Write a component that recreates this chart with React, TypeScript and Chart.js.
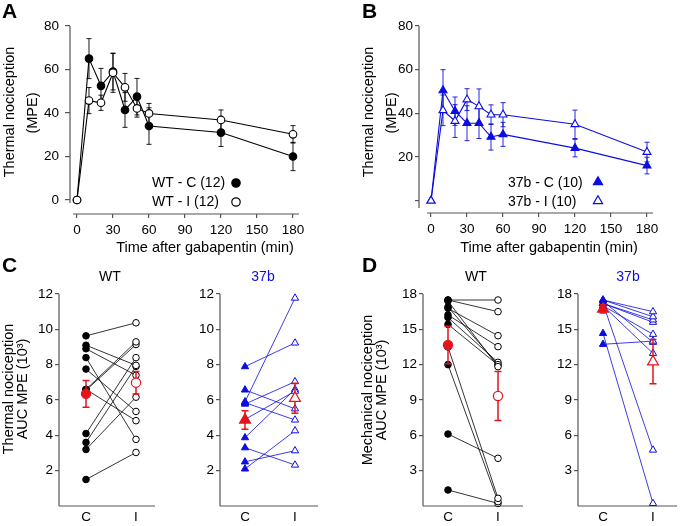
import React, { useEffect, useRef } from 'react';
import { Chart, registerables } from 'chart.js';

Chart.register(...registerables);

const FONT = '"Liberation Sans", Arial, Helvetica, sans-serif';
const BLUE = '#0d0de0';
const RED = '#e3141c';
const AXIS = '#555555';

// ---------- Panels A & B : time course ----------
const timeMin = [0, 10, 20, 30, 40, 50, 60, 120, 180];
const timeTicks = [0, 30, 60, 90, 120, 150, 180];
const mpeTicks = [0, 20, 40, 60, 80];

const wtCMean = [0, 65, 52.5, 59, 41.4, 47.5, 34, 31, 20];
const wtCSem = [0, 9.2, 8, 8.4, 8, 8.4, 8.4, 6.4, 6.5];
const wtIMean = [0, 45.7, 44.7, 58.5, 51.8, 42.1, 39.8, 36.8, 30.2];
const wtISem = [0, 6, 3.5, 9, 6.4, 4, 4.6, 4.6, 4];

const b37CMean = [0, 50.5, 41, 35.5, 35.5, 29.2, 30.4, 24.1, 16.1];
const b37CSem = [0, 9.5, 6.5, 8, 7, 6, 5.5, 4, 3.8];
const b37IMean = [0, 41.4, 36.5, 46.3, 43.2, 39.4, 39.4, 35, 22.3];
const b37ISem = [0, 7, 7.5, 5, 8, 4.5, 5.5, 6.5, 4.5];

const legendA = ['WT - C (12)', 'WT - I (12)'];
const legendB = ['37b - C (10)', '37b - I (10)'];

// ---------- Panels C & D : paired AUC ----------
const groupLabels = ['C', 'I'];
const thermAucTicks = [2, 4, 6, 8, 10, 12];
const mechAucTicks = [3, 6, 9, 12, 15, 18];

const wtThermC = [9.63, 9.1, 8.9, 8.4, 7.75, 6.6, 6.55, 6.6, 4.1, 3.6, 3.2, 1.5];
const wtThermI = [10.37, 7.96, 7.4, 3.77, 5.35, 9.29, 9.14, 4.83, 8.4, 7.9, 6.16, 3.03];
const wtThermMean = [6.35, 6.98];
const wtThermSem = [0.76, 0.64];

const b37ThermC = [5.9, 7.89, 6.57, 5.85, 5.77, 4.9, 3.87, 3.3, 2.5, 2.1];
const b37ThermI = [11.77, 9.23, 5.5, 4.87, 7.04, 6.5, 6.6, 2.32, 3.13, 4.26];
const b37ThermMean = [4.87, 6.1];
const b37ThermSem = [0.52, 0.85];

const wtMechC = [17.49, 17.49, 17.4, 16.78, 16.9, 16.22, 16.0, 15.42, 13.5, 12.0, 6.11, 1.36];
const wtMechI = [17.49, 16.5, 11.83, 14.46, 12.0, 13.53, 12.2, 11.97, 0.65, 0.37, 4.05, 0.22];
const wtMechMean = [13.67, 9.34];
const wtMechSem = [1.6, 2.07];

const b37MechC = [17.49, 17.49, 17.2, 17.2, 17.0, 17.0, 13.73, 17.2, 14.66, 17.4];
const b37MechI = [16.5, 16.07, 15.8, 15.6, 14.58, 12.96, 14.0, 4.75, 0.22, 13.9];
const b37MechMean = [16.73, 12.25];
const b37MechSem = [0.35, 1.88];

// ---------- helpers ----------
type Rect = { x: number; y: number; w: number; h: number };
type Area = { L: number; T: number; R: number; B: number };
type Txt = { t: string; x: number; y: number; size?: number; bold?: boolean; color?: string; rot?: boolean; align?: CanvasTextAlign };
type Mk = { x: number; y: number; shape: 'circle' | 'triangle'; r: number; fill: string; stroke: string };

function drawShape(ctx: CanvasRenderingContext2D, m: Mk, ox: number, oy: number) {
  const x = m.x - ox;
  const y = m.y - oy;
  ctx.beginPath();
  if (m.shape === 'circle') {
    ctx.arc(x, y, m.r, 0, Math.PI * 2);
  } else {
    const a = (2 * Math.PI) / 3;
    ctx.moveTo(x, y - m.r);
    ctx.lineTo(x + Math.sin(a) * m.r, y - Math.cos(a) * m.r);
    ctx.lineTo(x + Math.sin(2 * a) * m.r, y - Math.cos(2 * a) * m.r);
  }
  ctx.closePath();
  ctx.fillStyle = m.fill;
  ctx.fill();
  ctx.lineWidth = 1.2;
  ctx.strokeStyle = m.stroke;
  ctx.stroke();
}

function decorPlugin(rect: Rect, texts: Txt[], markers: Mk[], yGap: number, xGap: number) {
  return {
    id: 'decor',
    beforeDatasetsDraw(chart: any) {
      const { left, right, top, bottom } = chart.chartArea;
      const ctx = chart.ctx as CanvasRenderingContext2D;
      ctx.save();
      ctx.strokeStyle = AXIS;
      ctx.lineWidth = 1.2;
      ctx.beginPath();
      ctx.moveTo(left, top);
      ctx.lineTo(left, bottom - yGap);
      ctx.moveTo(left + xGap, bottom);
      ctx.lineTo(right, bottom);
      ctx.stroke();
      ctx.restore();
    },
    afterDraw(chart: any) {
      const ctx = chart.ctx as CanvasRenderingContext2D;
      texts.forEach((t) => {
        ctx.save();
        ctx.font = `${t.bold ? 'bold ' : ''}${t.size || 14.5}px ${FONT}`;
        ctx.fillStyle = t.color || '#000';
        ctx.textAlign = t.align || 'center';
        ctx.textBaseline = 'middle';
        ctx.translate(t.x - rect.x, t.y - rect.y);
        if (t.rot) ctx.rotate(-Math.PI / 2);
        ctx.fillText(t.t, 0, 0);
        ctx.restore();
      });
      markers.forEach((m) => {
        ctx.save();
        drawShape(ctx, m, rect.x, rect.y);
        ctx.restore();
      });
    },
  };
}

const errorBarPlugin = {
  id: 'errorBars',
  beforeDatasetDraw(chart: any, args: any) {
    const ds: any = chart.data.datasets[args.index];
    if (!ds.errors) return;
    const yScale = chart.scales.y;
    const ctx = chart.ctx as CanvasRenderingContext2D;
    ctx.save();
    ctx.strokeStyle = ds.errorColor;
    ctx.lineWidth = ds.errorWidth || 1;
    args.meta.data.forEach((pt: any, i: number) => {
      const e = ds.errors[i];
      if (!e) return;
      const v = ds.data[i].y;
      const yt = yScale.getPixelForValue(v + e);
      const yb = yScale.getPixelForValue(v - e);
      const x = pt.x;
      const cap = ds.errorCap ?? 2.5;
      ctx.beginPath();
      ctx.moveTo(x, yt);
      ctx.lineTo(x, yb);
      ctx.moveTo(x - cap, yt);
      ctx.lineTo(x + cap, yt);
      ctx.moveTo(x - cap, yb);
      ctx.lineTo(x + cap, yb);
      ctx.stroke();
    });
    ctx.restore();
  },
};

function makeScale(
  axis: 'x' | 'y',
  min: number,
  max: number,
  tickVals: number[],
  size: number,
  tickLen: number,
  pad: number,
  label: (v: number) => string,
) {
  return {
    type: 'linear',
    min,
    max,
    afterBuildTicks: (s: any) => {
      s.ticks = tickVals.map((v) => ({ value: v }));
    },
    afterFit: (s: any) => {
      if (axis === 'y') {
        s.width = size;
        s.paddingTop = 0;
        s.paddingBottom = 0;
      } else {
        s.height = size;
        s.paddingLeft = 0;
        s.paddingRight = 0;
      }
    },
    border: { display: false },
    grid: {
      display: true,
      drawOnChartArea: false,
      drawTicks: tickLen > 0,
      tickLength: tickLen,
      color: AXIS,
      lineWidth: 1.2,
    },
    ticks: {
      autoSkip: false,
      maxRotation: 0,
      minRotation: 0,
      padding: pad,
      color: '#000',
      font: { family: FONT, size: 13.5 },
      callback: (v: any) => label(Number(v)),
    },
  };
}

function layoutFor(rect: Rect, area: Area, yW: number, xH: number) {
  return {
    padding: {
      left: area.L - rect.x - yW,
      top: area.T - rect.y,
      right: rect.x + rect.w - area.R,
      bottom: rect.y + rect.h - area.B - xH,
    },
  };
}

function pts(xs: number[], ys: number[]) {
  return xs.map((x, i) => ({ x, y: ys[i] }));
}

function baseOptions(rect: Rect, area: Area, yW: number, xH: number, scales: any) {
  return {
    responsive: false,
    animation: false,
    events: [],
    layout: layoutFor(rect, area, yW, xH),
    plugins: { legend: { display: false }, tooltip: { enabled: false }, title: { display: false } },
    scales,
  };
}

// ---------- config builders ----------
function timeCourse(
  rect: Rect,
  area: Area,
  xMin: number,
  yMin: number,
  color: string,
  shape: 'circle' | 'triangle',
  cMean: number[],
  cSem: number[],
  iMean: number[],
  iSem: number[],
  yLabel: (v: number) => string,
  yGap: number,
  xGap: number,
  texts: Txt[],
  markers: Mk[],
  ptR: number,
  yTickLen: number,
  yPad: number,
) {
  const common = {
    borderColor: color,
    borderWidth: 1.1,
    pointStyle: shape,
    pointRadius: ptR,
    pointBorderColor: color,
    pointBorderWidth: 1.1,
    errorColor: color,
    errorWidth: 0.9,
    errorCap: 2.5,
    clip: false,
    tension: 0,
    fill: false,
  };
  return {
    type: 'line',
    data: {
      datasets: [
        { ...common, data: pts(timeMin, iMean), errors: iSem, pointBackgroundColor: '#fff' },
        { ...common, data: pts(timeMin, cMean), errors: cSem, pointBackgroundColor: color },
      ],
    },
    options: baseOptions(rect, area, 30, 20, {
      x: makeScale('x', xMin, 185, timeTicks, 20, 4, 4, (v) => String(v)),
      y: makeScale('y', yMin, 80, mpeTicks, 30, yTickLen, yPad, yLabel),
    }),
    plugins: [errorBarPlugin, decorPlugin(rect, texts, markers, yGap, xGap)],
  };
}

function paired(
  rect: Rect,
  area: Area,
  xMin: number,
  xMax: number,
  yMax: number,
  yTicks: number[],
  cVals: number[],
  iVals: number[],
  mean: number[],
  sem: number[],
  color: string,
  shape: 'circle' | 'triangle',
  texts: Txt[],
) {
  const tri = shape === 'triangle';
  const pairSets = cVals.map((c, i) => ({
    data: [
      { x: 0, y: c },
      { x: 1, y: iVals[i] },
    ],
    borderColor: color,
    borderWidth: 0.8,
    pointStyle: shape,
    pointRadius: tri ? 4.2 : 3.3,
    pointBackgroundColor: [color, '#fff'],
    pointBorderColor: color,
    pointBorderWidth: 1,
    clip: false,
    tension: 0,
  }));
  const meanSet = {
    data: [
      { x: 0, y: mean[0] },
      { x: 1, y: mean[1] },
    ],
    showLine: false,
    pointStyle: shape,
    pointRadius: tri ? 6.3 : 4.6,
    pointBackgroundColor: [RED, '#fff'],
    pointBorderColor: RED,
    pointBorderWidth: 1.2,
    errors: sem,
    errorColor: RED,
    errorWidth: 1.5,
    errorCap: 3.5,
    clip: false,
  };
  return {
    type: 'line',
    data: { datasets: [meanSet, ...pairSets] },
    options: baseOptions(rect, area, 25, 15, {
      x: makeScale('x', xMin, xMax, [0, 1], 15, 0, 3, (v) => groupLabels[v] ?? ''),
      y: makeScale('y', 0, yMax, yTicks, 25, 4, 2, (v) => String(v)),
    }),
    plugins: [errorBarPlugin, decorPlugin(rect, texts, [], 0, 0)],
  };
}

// ---------- panel definitions ----------
const rA: Rect = { x: 0, y: 0, w: 340, h: 260 };
const rB: Rect = { x: 340, y: 0, w: 345, h: 260 };
const rC1: Rect = { x: 0, y: 255, w: 175, h: 271 };
const rC2: Rect = { x: 175, y: 255, w: 165, h: 271 };
const rD1: Rect = { x: 340, y: 255, w: 195, h: 271 };
const rD2: Rect = { x: 535, y: 255, w: 150, h: 271 };

const panels: { rect: Rect; make: () => any }[] = [
  {
    rect: rA,
    make: () =>
      timeCourse(
        rA,
        { L: 70, T: 26, R: 299, B: 214 },
        -5.83,
        -6.44,
        '#000',
        'circle',
        wtCMean,
        wtCSem,
        wtIMean,
        wtISem,
        (v) => String(v),
        11,
        3,
        [
          { t: 'A', x: 2, y: 12, size: 21, bold: true, align: 'left' },
          { t: 'Thermal nociception', x: 10, y: 112, rot: true },
          { t: '(MPE)', x: 33, y: 113, rot: true },
          { t: 'Time after gabapentin (min)', x: 205, y: 248 },
          { t: legendA[0], x: 152, y: 183, align: 'left', size: 14 },
          { t: legendA[1], x: 152, y: 202, align: 'left', size: 14 },
        ],
        [
          { x: 236, y: 183, shape: 'circle', r: 4.2, fill: '#000', stroke: '#000' },
          { x: 236, y: 202, shape: 'circle', r: 4.2, fill: '#fff', stroke: '#000' },
        ],
        3.8,
        5,
        6,
      ),
  },
  {
    rect: rB,
    make: () =>
      timeCourse(
        rB,
        { L: 419, T: 26, R: 653, B: 213 },
        -10,
        -5.6,
        BLUE,
        'triangle',
        b37CMean,
        b37CSem,
        b37IMean,
        b37ISem,
        (v) => (v === 0 ? '' : String(v)),
        5,
        8,
        [
          { t: 'B', x: 362, y: 12, size: 21, bold: true, align: 'left' },
          { t: 'Thermal nociception', x: 369, y: 112, rot: true },
          { t: '(MPE)', x: 392, y: 113, rot: true },
          { t: 'Time after gabapentin (min)', x: 549, y: 248 },
          { t: legendB[0], x: 508, y: 183, align: 'left', size: 14 },
          { t: legendB[1], x: 508, y: 202, align: 'left', size: 14 },
        ],
        [
          { x: 598, y: 182, shape: 'triangle', r: 5.3, fill: BLUE, stroke: BLUE },
          { x: 598, y: 201, shape: 'triangle', r: 5.3, fill: '#fff', stroke: BLUE },
        ],
        4.6,
        4,
        2,
      ),
  },
  {
    rect: rC1,
    make: () =>
      paired(
        rC1,
        { L: 59, T: 294, R: 155, B: 506 },
        -0.54,
        1.38,
        12,
        thermAucTicks,
        wtThermC,
        wtThermI,
        wtThermMean,
        wtThermSem,
        '#000',
        'circle',
        [
          { t: 'C', x: 2, y: 266, size: 21, bold: true, align: 'left' },
          { t: 'WT', x: 110, y: 277, size: 14 },
          { t: 'Thermal nociception', x: 9, y: 389, rot: true },
          { t: 'AUC MPE (10³)', x: 23, y: 389, rot: true },
        ],
      ),
  },
  {
    rect: rC2,
    make: () =>
      paired(
        rC2,
        { L: 220, T: 294, R: 318, B: 506 },
        -0.5,
        1.46,
        12,
        thermAucTicks,
        b37ThermC,
        b37ThermI,
        b37ThermMean,
        b37ThermSem,
        BLUE,
        'triangle',
        [{ t: '37b', x: 263, y: 277, color: BLUE, size: 14 }],
      ),
  },
  {
    rect: rD1,
    make: () =>
      paired(
        rD1,
        { L: 423, T: 294, R: 523, B: 506 },
        -0.5,
        1.5,
        18,
        mechAucTicks,
        wtMechC,
        wtMechI,
        wtMechMean,
        wtMechSem,
        '#000',
        'circle',
        [
          { t: 'D', x: 362, y: 266, size: 21, bold: true, align: 'left' },
          { t: 'WT', x: 476, y: 277, size: 14 },
          { t: 'Mechanical nociception', x: 368, y: 390, rot: true },
          { t: 'AUC MPE (10³)', x: 382, y: 390, rot: true },
        ],
      ),
  },
  {
    rect: rD2,
    make: () =>
      paired(
        rD2,
        { L: 578, T: 294, R: 677, B: 506 },
        -0.5,
        1.48,
        18,
        mechAucTicks,
        b37MechC,
        b37MechI,
        b37MechMean,
        b37MechSem,
        BLUE,
        'triangle',
        [{ t: '37b', x: 628, y: 277, color: BLUE, size: 14 }],
      ),
  },
];

function ChartCanvas({ rect, make }: { rect: Rect; make: () => any }) {
  const ref = useRef<HTMLCanvasElement>(null);
  useEffect(() => {
    if (!ref.current) return;
    const chart = new Chart(ref.current, make());
    return () => chart.destroy();
  }, []);
  return (
    <canvas
      ref={ref}
      width={rect.w}
      height={rect.h}
      style={{ position: 'absolute', left: rect.x, top: rect.y, width: rect.w, height: rect.h }}
    />
  );
}

export default function App() {
  return (
    <div
      style={{
        position: 'absolute',
        left: 0,
        top: 0,
        width: 685,
        height: 526,
        background: '#fff',
        overflow: 'hidden',
        fontFamily: FONT,
      }}
    >
      {panels.map((p, i) => (
        <ChartCanvas key={i} rect={p.rect} make={p.make} />
      ))}
    </div>
  );
}
